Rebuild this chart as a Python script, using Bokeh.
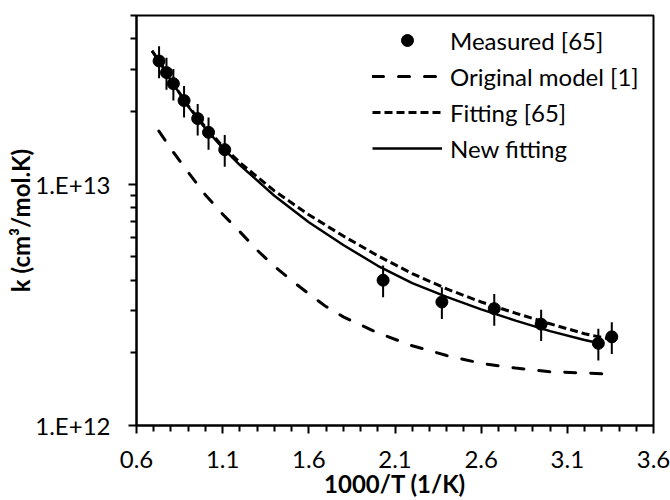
from bokeh.plotting import figure
from bokeh.models import (Range1d, FixedTicker, CustomJSTickFormatter, Legend,
                          LegendItem, ColumnDataSource)
from bokeh.embed import file_html
from bokeh.resources import INLINE

# ---------------- data ----------------
# Measured [65]
meas_x = [0.731, 0.774, 0.814, 0.876, 0.955, 1.018, 1.112,
          2.031, 2.372, 2.676, 2.948, 3.280, 3.358]
meas_k = [3.24e13, 2.90e13, 2.61e13, 2.22e13, 1.87e13, 1.64e13, 1.39e13,
          4.00e12, 3.25e12, 3.05e12, 2.63e12, 2.19e12, 2.33e12]
meas_err = [0.49e13, 0.44e13, 0.39e13, 0.33e13, 0.28e13, 0.25e13, 0.21e13,
            0.60e12, 0.49e12, 0.46e12, 0.39e12, 0.33e12, 0.35e12]

# Original model [1]
orig_x = [0.73, 0.80, 0.90, 1.00, 1.10, 1.20, 1.30, 1.40, 1.50, 1.60,
          1.70, 1.80, 2.00, 2.20, 2.40, 2.60, 2.80, 3.00, 3.20, 3.36]
orig_k = [1.66e13, 1.40e13, 1.12e13, 9.02e12, 7.51e12, 6.35e12, 5.33e12,
          4.57e12, 3.99e12, 3.51e12, 3.11e12, 2.82e12, 2.42e12, 2.14e12,
          1.95e12, 1.81e12, 1.73e12, 1.67e12, 1.65e12, 1.63e12]

# Fitting [65]
fit_x = [0.69, 0.75, 0.80, 0.90, 1.00, 1.10, 1.20, 1.40, 1.60, 1.80,
         2.00, 2.20, 2.40, 2.60, 2.80, 3.00, 3.20, 3.36]
fit_k = [3.57e13, 3.09e13, 2.70e13, 2.11e13, 1.72e13, 1.435e13, 1.228e13,
         9.38e12, 7.47e12, 6.10e12, 5.05e12, 4.26e12, 3.68e12, 3.25e12,
         2.92e12, 2.64e12, 2.40e12, 2.27e12]

# New fitting
new_x = [0.69, 0.75, 0.80, 0.90, 1.00, 1.10, 1.20, 1.40, 1.60, 1.80,
         2.00, 2.20, 2.40, 2.60, 2.80, 3.00, 3.20, 3.30]
new_k = [3.57e13, 3.07e13, 2.69e13, 2.10e13, 1.70e13, 1.415e13, 1.20e13,
         8.95e12, 6.95e12, 5.60e12, 4.59e12, 3.89e12, 3.41e12, 3.03e12,
         2.72e12, 2.46e12, 2.26e12, 2.18e12]

x_major_ticks = [0.6, 1.1, 1.6, 2.1, 2.6, 3.1, 3.6]
x_minor_ticks = [0.7, 0.8, 0.9, 1.0, 1.2, 1.3, 1.4, 1.5, 1.7, 1.8, 1.9, 2.0,
                 2.2, 2.3, 2.4, 2.5, 2.7, 2.8, 2.9, 3.0, 3.2, 3.3, 3.4, 3.5]
y_major_ticks = [1e12, 1e13]
y_tick_labels = ["1.E+12", "1.E+13"]
y_minor_ticks = [2e12, 3e12, 4e12, 5e12, 6e12, 7e12, 8e12, 9e12,
                 2e13, 3e13, 4e13, 5e13]

x_title = "1000/T (1/K)"
y_title = "k (cm³/mol.K)"

FONT = "Lato"
FS = "24px"
TFS = "24px"

# ---------------- figure ----------------
p = figure(width=670, height=500,
           x_range=Range1d(0.6, 3.6), y_range=Range1d(1e12, 5e13),
           y_axis_type="log", output_backend="svg", toolbar_location=None,
           min_border_left=136, min_border_right=17,
           min_border_top=15, min_border_bottom=73)
p.background_fill_color = "white"
p.border_fill_color = "white"
p.outline_line_color = "black"
p.outline_line_width = 2
p.xgrid.visible = False
p.ygrid.visible = False

src = ColumnDataSource(dict(x=meas_x, k=meas_k,
                            lo=[k - e for k, e in zip(meas_k, meas_err)],
                            hi=[k + e for k, e in zip(meas_k, meas_err)]))

r_orig = p.line(orig_x, orig_k, line_color="black", line_width=3,
                line_dash="11 15", line_cap="round")
r_fit = p.line(fit_x, fit_k, line_color="black", line_width=3,
               line_dash="8 4")
r_new = p.line(new_x, new_k, line_color="black", line_width=2.5)
p.segment(x0="x", y0="lo", x1="x", y1="hi", source=src,
          line_color="black", line_width=2)
r_meas = p.scatter("x", "k", source=src, size=12, marker="circle",
                   fill_color="black", line_color="black")

# axes
for ax in (p.xaxis[0], p.yaxis[0]):
    ax.axis_line_color = "black"
    ax.axis_line_width = 2
    ax.major_tick_line_color = "black"
    ax.minor_tick_line_color = "black"
    ax.major_tick_line_width = 2
    ax.minor_tick_line_width = 2
    ax.major_tick_in = 0
    ax.major_tick_out = 8
    ax.minor_tick_in = 0
    ax.minor_tick_out = 6
    ax.major_label_text_font = FONT
    ax.major_label_text_font_size = FS
    ax.major_label_text_color = "black"
    ax.axis_label_text_font = FONT
    ax.axis_label_text_font_size = TFS
    ax.axis_label_text_font_style = "bold"
    ax.axis_label_text_color = "black"

p.xaxis.ticker = FixedTicker(ticks=x_major_ticks, minor_ticks=x_minor_ticks)
p.xaxis.formatter = CustomJSTickFormatter(code="return tick.toFixed(1);")
p.xaxis.major_label_standoff = 17
p.xaxis.axis_label = x_title
p.xaxis.axis_label_standoff = -2

p.yaxis.ticker = FixedTicker(ticks=y_major_ticks, minor_ticks=y_minor_ticks)
p.yaxis.formatter = CustomJSTickFormatter(
    args=dict(vals=y_major_ticks, labels=y_tick_labels),
    code="""
    for (let i = 0; i < vals.length; i++) {
        if (Math.abs(Math.log10(tick) - Math.log10(vals[i])) < 1e-6) return labels[i];
    }
    return "";
    """)
p.yaxis.major_label_standoff = 18
p.yaxis.axis_label = y_title
p.yaxis.axis_label_standoff = -3

legend = Legend(items=[
    LegendItem(label="Measured [65]", renderers=[r_meas]),
    LegendItem(label="Original model [1]", renderers=[r_orig]),
    LegendItem(label="Fitting [65]", renderers=[r_fit]),
    LegendItem(label="New fitting", renderers=[r_new]),
], location=(236, 262))
legend.border_line_color = None
legend.background_fill_alpha = 0
legend.padding = 0
legend.margin = 0
legend.spacing = 6
legend.glyph_width = 70
legend.glyph_height = 30
legend.label_height = 30
legend.label_standoff = 8
legend.label_text_font = FONT
legend.label_text_font_size = FS
legend.label_text_color = "black"
p.add_layout(legend, "center")

open("out.html", "w").write(file_html(p, INLINE))
